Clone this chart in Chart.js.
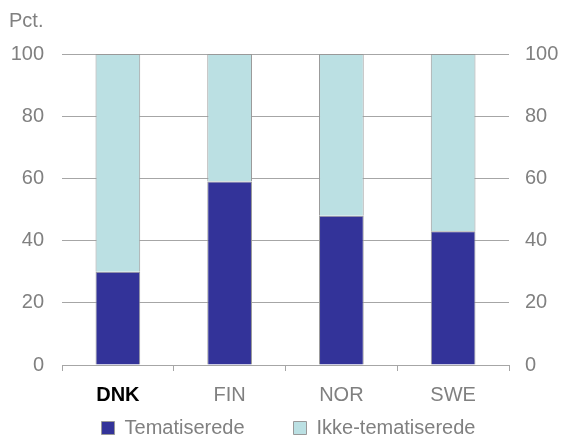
<!DOCTYPE html>
<html>
<head>
<meta charset="utf-8">
<script src="https://cdn.jsdelivr.net/npm/chart.js@4"></script>
<style>
    html, body { margin: 0; padding: 0; background: #fff; }
    #wrap { width: 561px; height: 436px; position: relative; }
</style>
</head>
<body>
<div id="wrap"><canvas id="myBarChart"></canvas></div>
<script>
const countries = ['DNK', 'FIN', 'NOR', 'SWE'];
const tematiserede = [30, 59, 48, 43];
const ikke_tematiserede = [70, 41, 52, 57];
const y_ticks = [0, 20, 40, 60, 80, 100];

const grey_text = '#808080';
const line_grey = '#a6a6a6';

// draws the "Pct." unit label above the left axis
const unit_label = {
    id: 'unit_label',
    afterDraw(chart) {
        const ctx = chart.ctx;
        ctx.save();
        ctx.font = '20px "Liberation Sans", Arial, sans-serif';
        ctx.fillStyle = grey_text;
        ctx.textBaseline = 'middle';
        ctx.textAlign = 'left';
        ctx.fillText('Pct.', 9, 21);
        ctx.restore();
    }
};

window.onload = () => {
    bar_graph();
}

function bar_graph() {
    Chart.defaults.font.family = '"Liberation Sans", Arial, sans-serif';
    Chart.defaults.font.size = 20;
    Chart.defaults.color = grey_text;

    const ctx = document.getElementById('myBarChart').getContext('2d');
    const myBarChart = new Chart(ctx, {
        type: 'bar',
        data: {
            labels: countries,
            datasets: [
                {
                    label: 'Tematiserede',
                    data: tematiserede,
                    backgroundColor: '#333399',
                    borderColor: '#999999',
                    borderWidth: 1,
                    yAxisID: 'y'
                },
                {
                    label: 'Ikke-tematiserede',
                    data: ikke_tematiserede,
                    backgroundColor: '#bbe0e3',
                    borderColor: '#999999',
                    borderWidth: 1,
                    yAxisID: 'y'
                }
            ]
        },
        options: {
            responsive: true,
            maintainAspectRatio: false,
            animation: false,
            layout: {
                padding: { left: 0, right: -16, top: 54, bottom: -12 }
            },
            datasets: {
                bar: { categoryPercentage: 1, barPercentage: 0.4 }
            },
            plugins: {
                legend: {
                    display: true,
                    position: 'bottom',
                    labels: {
                        boxWidth: 13,
                        boxHeight: 13,
                        padding: 10,
                        color: grey_text,
                        font: { size: 20 },
                        generateLabels: (chart) => {
                            const items = Chart.defaults.plugins.legend.labels.generateLabels(chart);
                            items[0].text = items[0].text + '       ';
                            return items;
                        }
                    }
                },
                tooltip: { enabled: false }
            },
            scales: {
                x: {
                    stacked: true,
                    afterFit: (axis) => { axis.height = 43; },
                    ticks: {
                        color: (c) => c.index === 0 ? '#000000' : grey_text,
                        font: (c) => ({ size: 20, weight: c.index === 0 ? 'bold' : 'normal' }),
                        padding: 12
                    },
                    grid: {
                        offset: true,
                        drawOnChartArea: false,
                        drawTicks: true,
                        tickLength: 6,
                        color: line_grey
                    },
                    border: { display: true, color: line_grey }
                },
                y: {
                    stacked: true,
                    position: 'left',
                    min: 0,
                    max: 100,
                    afterBuildTicks: (axis) => { axis.ticks = y_ticks.map(v => ({ value: v })); },
                    afterFit: (axis) => { axis.width = 62; },
                    ticks: { color: grey_text, padding: 18 },
                    grid: { color: line_grey, drawTicks: false },
                    border: { display: false }
                },
                y2: {
                    position: 'right',
                    min: 0,
                    max: 100,
                    afterBuildTicks: (axis) => { axis.ticks = y_ticks.map(v => ({ value: v })); },
                    afterFit: (axis) => { axis.width = 68; },
                    ticks: { color: grey_text, padding: 16 },
                    grid: { display: false, drawTicks: false },
                    border: { display: false }
                }
            }
        },
        plugins: [unit_label]
    });
}
</script>
</body>
</html>
